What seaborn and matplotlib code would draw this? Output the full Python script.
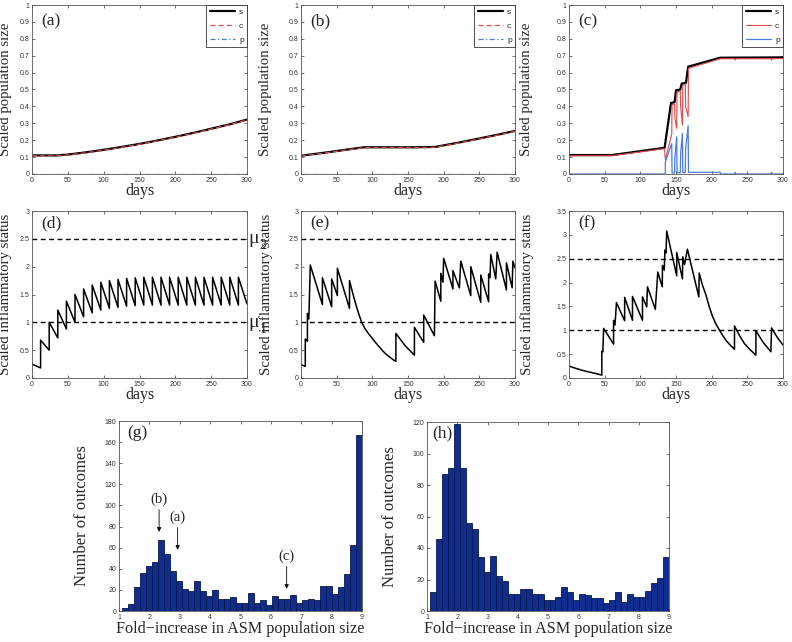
import numpy as np
import pandas as pd
import matplotlib
matplotlib.use('Agg')
import matplotlib.pyplot as plt
import seaborn as sns

# ---------------- data ----------------
# (a)
a_t = [0, 20, 35, 50, 75, 100, 125, 150, 175, 200, 225, 250, 275, 300]
a_s = [0.110, 0.110, 0.110, 0.115, 0.128, 0.143, 0.160, 0.178, 0.198, 0.220, 0.243, 0.268, 0.293, 0.322]
a_c = [0.108, 0.108, 0.108, 0.113, 0.126, 0.141, 0.158, 0.176, 0.196, 0.218, 0.241, 0.266, 0.291, 0.320]
a_p = [0.001, 0.001, 0.001, 0.001, 0.001, 0.001, 0.001, 0.001, 0.001, 0.001, 0.001, 0.001, 0.001, 0.001]
# (b)
b_t = [0, 40, 88, 120, 160, 188, 220, 250, 275, 300]
b_s = [0.108, 0.130, 0.158, 0.158, 0.158, 0.160, 0.185, 0.210, 0.232, 0.255]
b_c = [0.106, 0.128, 0.156, 0.156, 0.156, 0.158, 0.183, 0.208, 0.230, 0.253]
b_p = [0.001, 0.001, 0.001, 0.001, 0.001, 0.001, 0.001, 0.001, 0.001, 0.001]
# (c)
c_s_t = [0, 60, 134, 143, 148, 150, 156, 158, 164, 167, 212, 300]
c_s = [0.112, 0.112, 0.155, 0.420, 0.425, 0.495, 0.500, 0.535, 0.540, 0.635, 0.688, 0.690]
c_c_t = [0, 60, 134, 135, 144, 144.5, 148, 148.5, 151, 151.5, 156, 156.5, 159, 159.5,
         163, 163.5, 167, 167.5, 212, 232, 233, 234, 283, 284, 285, 300]
c_c = [0.108, 0.108, 0.150, 0.085, 0.235, 0.410, 0.415, 0.330, 0.270, 0.485, 0.490, 0.400,
       0.290, 0.525, 0.530, 0.400, 0.340, 0.625, 0.682, 0.682, 0.674, 0.682, 0.682, 0.674, 0.682, 0.684]
c_p_t = [0, 135, 135, 144, 144.5, 148, 148.5, 151, 151.5, 156, 156.5, 159, 159.5,
         163, 163.5, 167, 167.5, 212, 212.5, 232, 233, 234, 283, 284, 285, 300]
c_p = [0.0, 0.0, 0.070, 0.180, 0.005, 0.008, 0.100, 0.220, 0.008, 0.008, 0.120, 0.240, 0.008,
       0.008, 0.150, 0.285, 0.010, 0.010, 0.0, 0.0, 0.010, 0.0, 0.0, 0.010, 0.0, 0.0]
# (d)
d_t = [0, 12, 12, 24, 24, 36, 36, 48, 48, 60, 60, 72, 72, 84, 84, 96, 96, 108, 108, 120, 120,
       132, 132, 144, 144, 156, 156, 168, 168, 180, 180, 192, 192, 204, 204, 216, 216, 228, 228,
       240, 240, 252, 252, 264, 264, 276, 276, 288, 288, 300]
d_y = [0.25, 0.18, 0.68, 0.50, 1.00, 0.72, 1.22, 0.88, 1.38, 1.00, 1.50, 1.10, 1.60, 1.17, 1.67,
       1.22, 1.72, 1.25, 1.75, 1.27, 1.77, 1.29, 1.79, 1.30, 1.80, 1.31, 1.81, 1.31, 1.81, 1.31, 1.81,
       1.31, 1.81, 1.31, 1.81, 1.31, 1.81, 1.31, 1.81, 1.31, 1.81, 1.31, 1.81, 1.31, 1.81, 1.31, 1.81,
       1.31, 1.81, 1.33]
# (e)
e_t = [0, 6, 6, 9, 9, 11, 13, 30, 30, 43, 43, 51, 51, 68, 68, 72, 76, 80, 85, 90, 95, 100, 105,
       110, 115, 120, 125, 129, 133,
       133, 146, 159, 159, 172, 172, 187, 188, 196, 196, 199, 200, 213, 213, 222, 224, 238, 238, 252,
       252, 263, 263, 265, 266, 273, 275, 288, 288, 296, 297, 300]
e_y = [0.24, 0.21, 0.70, 0.66, 1.16, 1.06, 2.03, 1.32, 1.80, 1.28, 1.78, 1.48, 1.97, 1.25, 1.75,
       1.55, 1.36, 1.19, 1.00, 0.88, 0.79, 0.71, 0.63, 0.555, 0.48, 0.42, 0.37, 0.33, 0.30,
       0.80, 0.58, 0.41, 0.91, 0.64, 1.13, 0.76, 1.74, 1.38,
       1.88, 1.72, 2.15, 1.60, 1.93, 1.62, 2.10, 1.48, 2.00, 1.36, 1.85, 1.37, 1.87, 1.80, 2.22,
       1.78, 2.26, 1.58, 2.07, 1.62, 2.10, 1.98]
# (f)
f_t = [0, 10, 20, 30, 40, 46, 46, 47.5, 48.5, 62.5, 62.5, 64.5, 66.5, 78, 78, 89, 89, 103, 103,
       109, 110, 121, 124.5, 130.8, 131, 133.5, 134.5, 136, 137, 151, 151, 159, 159.5, 162, 166,
       182, 182.5, 187, 192, 196.5, 201, 206, 211, 215.5, 220, 226, 232, 232, 239, 246, 254, 262,
       262, 272, 283, 284, 292, 300]
f_y = [0.25, 0.20, 0.155, 0.12, 0.085, 0.06, 0.56, 0.55, 1.04, 0.71, 1.21, 1.11, 1.58, 1.20, 1.69,
       1.21, 1.71, 1.21, 1.70, 1.49, 1.91, 1.44, 2.22, 1.91, 2.36, 2.26, 2.68, 2.62, 3.08, 2.14, 2.63,
       2.08, 2.54, 2.38, 2.70, 1.70, 2.20, 1.95, 1.74, 1.50, 1.30, 1.13, 1.00, 0.89, 0.79, 0.69,
       0.60, 1.09, 0.89, 0.72, 0.59, 0.48, 0.99, 0.75, 0.55, 1.05, 0.85, 0.69]
# thresholds
mu1, mu2 = 1.0, 2.5
# (g), (h) histogram counts (40 bins between 1.1 and 9.0)
g_counts = [3, 7, 23, 36, 43, 46, 67, 54, 38, 28, 21, 19, 28, 19, 14, 20, 11, 11, 13, 8,
            8, 17, 8, 10, 6, 14, 11, 11, 15, 8, 10, 11, 10, 24, 24, 16, 23, 35, 63, 167]
h_counts = [12, 46, 87, 91, 119, 91, 56, 52, 34, 25, 35, 22, 19, 11, 11, 14, 14, 11, 11, 7,
            7, 9, 15, 12, 7, 11, 10, 8, 8, 5, 7, 12, 6, 11, 9, 9, 13, 18, 21, 34]
hist_lo, hist_hi = 1.1, 9.0
g_arrow_labels = ['(b)', '(a)', '(c)']
g_arrow_x = [2.32, 2.93, 6.52]
g_arrow_tip = [75, 58, 21]

# ---------------- style ----------------
sns.set_style('ticks')
plt.rcParams['font.family'] = ['Liberation Sans', 'DejaVu Sans']

SERIF = 'Liberation Serif'
SERIF_LIST = ['Liberation Serif', 'DejaVu Serif']
RED = '#e04848'
BLUE = '#4a7be3'
BAR = '#0f2d8e'
XLAB_FS = 11.5
YLAB_FS = 10.6

W, H = 792, 642
fig = plt.figure(figsize=(W / 100, H / 100), dpi=100)


def add_ax(l, r, t, b):
    return fig.add_axes([l / W, 1 - b / H, (r - l) / W, (b - t) / H])


def style(ax):
    ax.tick_params(direction='in', length=2.5, width=0.5, labelsize=5, colors='#333333',
                   top=True, right=True, pad=2)
    for s in ax.spines.values():
        s.set_visible(True)
        s.set_linewidth(0.6)
        s.set_color('#555555')


def fmt(v):
    return f'{v:g}'


def letter(ax, txt, x, y):
    ax.text(x, y, txt, transform=ax.transAxes, ha='left', va='center',
            fontfamily=SERIF, fontsize=12.5)


def line(ax, t, y, color, lw, dashes=None, label=None):
    sns.lineplot(x=t, y=y, ax=ax, estimator=None, sort=False, color=color, lw=lw, label=label)
    ln = ax.lines[-1]
    ln.set_color(color)
    ln.set_linewidth(lw)
    if dashes is not None:
        ln.set_dashes(dashes)
    return ln


# top row
top_specs = [(32, 247, a_t, a_s, a_t, a_c, a_t, a_p, '(a)', -0.093, True),
             (301, 515, b_t, b_s, b_t, b_c, b_t, b_p, '(b)', -0.135, True),
             (569, 783, c_s_t, c_s, c_c_t, c_c, c_p_t, c_p, '(c)', -0.17, False)]
for (l, r, st, sv, ct, cv, pt, pv, lab, ylx, dashed) in top_specs:
    ax = add_ax(l, r, 5, 174)
    if dashed:
        line(ax, st, sv, 'black', 1.6, label='s')
        line(ax, ct, cv, RED, 0.9, dashes=(4, 2.5), label='c')
        line(ax, pt, pv, BLUE, 0.9, dashes=(4, 2, 1, 2), label='p')
    else:
        line(ax, st, sv, 'black', 1.6, label='s')
        line(ax, ct, cv, RED, 0.8, label='c')
        line(ax, pt, pv, BLUE, 0.9, label='p')
    ax.set_xlim(0, 300)
    ax.set_ylim(0, 1)
    ax.set_xticks(range(0, 301, 50))
    yt = [i / 10 for i in range(11)]
    ax.set_yticks(yt)
    ax.set_yticklabels([fmt(v) for v in yt])
    style(ax)
    ax.set_xlabel('days', fontfamily=SERIF, fontsize=XLAB_FS)
    ax.set_ylabel('Scaled population size', fontfamily=SERIF, fontsize=YLAB_FS)
    ax.xaxis.set_label_coords(0.5, -0.055)
    ax.yaxis.set_label_coords(ylx, 0.5)
    letter(ax, lab, 0.045, 0.905)
    leg = ax.legend(loc='upper right', fontsize=6, handlelength=3.0, handletextpad=0.5,
                    borderaxespad=0, frameon=True, fancybox=False, borderpad=0.4,
                    labelspacing=0.7)
    leg.get_frame().set_edgecolor('#333333')
    leg.get_frame().set_linewidth(0.6)
    leg.get_frame().set_alpha(1)

# middle row
mid_specs = [(32, 247, d_t, d_y, '(d)', 3.0, -0.093),
             (301, 515, e_t, e_y, '(e)', 3.0, -0.13),
             (569, 783, f_t, f_y, '(f)', 3.5, -0.165)]
for i, (l, r, tt, yy, lab, ymax, ylx) in enumerate(mid_specs):
    ax = add_ax(l, r, 211, 378)
    line(ax, tt, yy, 'black', 1.1)
    ax.axhline(mu1, color='black', lw=1.0, linestyle=(0, (3.5, 2.5)))
    ax.axhline(mu2, color='black', lw=1.0, linestyle=(0, (3.5, 2.5)))
    ax.set_xlim(0, 300)
    ax.set_ylim(0, ymax)
    ax.set_xticks(range(0, 301, 50))
    yt = list(np.arange(0, ymax + 0.01, 0.5))
    ax.set_yticks(yt)
    ax.set_yticklabels([fmt(v) for v in yt])
    style(ax)
    ax.set_xlabel('days', fontfamily=SERIF, fontsize=XLAB_FS)
    ax.set_ylabel('Scaled inflammatory status', fontfamily=SERIF, fontsize=YLAB_FS)
    ax.xaxis.set_label_coords(0.5, -0.055)
    ax.yaxis.set_label_coords(ylx, 0.5)
    letter(ax, lab, 0.045, 0.925)
    if i == 0:
        tr = ax.get_yaxis_transform()
        for val, sub in [(mu2, '2'), (mu1, '1')]:
            ax.text(1.008, val, '\u03bc', transform=tr, ha='left', va='center',
                    fontfamily=SERIF_LIST, fontsize=14)
            ax.annotate(sub, xy=(1.008, val), xycoords=tr, xytext=(8, -5),
                        textcoords='offset points', ha='left', va='center',
                        fontfamily=SERIF_LIST, fontsize=10)

# bottom row histograms
edges = [float(v) for v in np.linspace(hist_lo, hist_hi, len(g_counts) + 1)]
centers = [(edges[i] + edges[i + 1]) / 2 for i in range(len(edges) - 1)]
hist_specs = [(119, 362, 421, 611, g_counts, 180, '(g)', -0.12, 0.033, 0.937),
              (427, 669, 422, 611, h_counts, 120, '(h)', -0.12, 0.02, 0.94)]
for (l, r, t, b, counts, ymax, lab, ylx, lx, ly) in hist_specs:
    ax = add_ax(l, r, t, b)
    df = pd.DataFrame({'x': centers, 'n': [float(c) for c in counts]})
    sns.histplot(data=df, x='x', weights='n', bins=edges, ax=ax, color=BAR, alpha=1,
                 edgecolor='#081848', linewidth=0.6)
    ax.set_xlim(1, 9)
    ax.set_ylim(0, ymax)
    ax.set_xticks(range(1, 10))
    ax.set_yticks(range(0, ymax + 1, 20))
    style(ax)
    ax.set_xlabel('Fold\u2212increase in ASM population size', fontfamily=SERIF, fontsize=11.6)
    ax.set_ylabel('Number of outcomes', fontfamily=SERIF, fontsize=12)
    ax.xaxis.set_label_coords(0.5, -0.055)
    ax.yaxis.set_label_coords(ylx, 0.5)
    letter(ax, lab, lx, ly)
    if lab == '(g)':
        for txt, xa, tip in zip(g_arrow_labels, g_arrow_x, g_arrow_tip):
            ax.annotate('', xy=(xa, tip), xytext=(xa, tip + 21),
                        arrowprops=dict(arrowstyle='-|>', color='black', lw=0.6,
                                        mutation_scale=6, shrinkA=0, shrinkB=0))
            ax.text(xa, tip + 31, txt, ha='center', va='center', fontfamily=SERIF,
                    fontsize=10.5)

fig.savefig('out.png', dpi=100)
